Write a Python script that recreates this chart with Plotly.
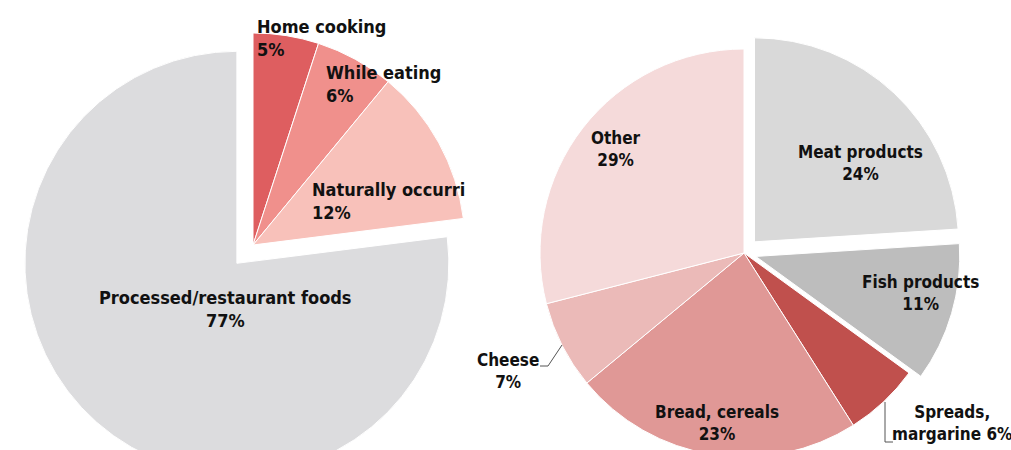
import plotly.graph_objects as go

# Left pie: where dietary salt comes from
src_labels = ["Home cooking", "While eating", "Naturally occurring", "Processed/restaurant foods"]
src_values = [5, 6, 12, 77]
src_colors = ["#DE5E60", "#F0908C", "#F8C1BA", "#DCDCDE"]

# Right pie: processed-food contributors
food_labels = ["Meat products", "Fish products", "Spreads, margarine", "Bread, cereals", "Cheese", "Other"]
food_values = [24, 11, 6, 23, 7, 29]
food_colors = ["#D9D9D9", "#BDBDBD", "#C0504D", "#E09896", "#EBBAB8", "#F5DADA"]
food_pull = [0.075, 0.06, 0, 0, 0, 0]

W, H = 1011, 485
BOLD = "Liberation Sans Narrow, Arial Narrow, DejaVu Sans Condensed, sans-serif"


def pie_domain(cx, cy, r, max_pull, half_w):
    """Domain for a pie whose circle has radius r (px) centred on (cx, cy) px."""
    half_h = r * (1 + max_pull)
    return dict(
        x=[(cx - half_w) / W, (cx + half_w) / W],
        y=[1 - (cy + half_h) / H, 1 - (cy - half_h) / H],
    )


src_pull = [0, 0, 0, 0.115]

fig = go.Figure()
fig.add_trace(go.Pie(
    labels=src_labels, values=src_values, sort=False, direction="clockwise",
    rotation=0, pull=src_pull, textinfo="none", hoverinfo="label+percent",
    marker=dict(colors=src_colors, line=dict(color="white", width=1)),
    domain=pie_domain(253, 245, 212, max(src_pull), 250),
    showlegend=False,
))
fig.add_trace(go.Pie(
    labels=food_labels, values=food_values, sort=False, direction="clockwise",
    rotation=0, pull=food_pull, textinfo="none", hoverinfo="label+percent",
    marker=dict(colors=food_colors, line=dict(color="white", width=1)),
    domain=pie_domain(744, 253, 204, max(food_pull), 225),
    showlegend=False,
))


def px_x(x):
    return x / W


def px_y(y):
    return 1 - y / H


def label(text, x, y, xanchor="center", align="center", size=17):
    fig.add_annotation(
        text=text, x=px_x(x), y=px_y(y), xref="paper", yref="paper",
        xanchor=xanchor, yanchor="middle", align=align, showarrow=False,
        font=dict(family=BOLD, size=size, color="#111111", weight="bold"),
    )


def pct(v):
    return f"{v}%"


# Left pie labels
label(f"{src_labels[0]}<br>{pct(src_values[0])}", 255, 38, "left", "left", 18)
label(f"{src_labels[1]}<br>{pct(src_values[1])}", 324, 84, "left", "left", 18)
label(f"{src_labels[2]}<br>{pct(src_values[2])}", 310, 201, "left", "left", 18)
label(f"{src_labels[3]}<br>{pct(src_values[3])}", 225, 309, "center", "center", 18)

# The left chart is cut off on its right edge: a white block over the overflow
fig.add_annotation(
    text=" ", x=px_x(466), y=px_y(200), xref="paper", yref="paper",
    xanchor="left", yanchor="middle", showarrow=False,
    width=60, height=90, bgcolor="white", borderpad=0, borderwidth=0,
)

# Right pie labels
label(f"{food_labels[0]}<br>{pct(food_values[0])}", 860, 163)
label(f"{food_labels[1]}<br>{pct(food_values[1])}", 920, 293)
label(f"Spreads,<br>margarine {pct(food_values[2])}", 952, 423)
label(f"{food_labels[3]}<br>{pct(food_values[3])}", 717, 423)
label(f"{food_labels[4]}<br>{pct(food_values[4])}", 508, 371)
label(f"{food_labels[5]}<br>{pct(food_values[5])}", 616, 149)

# Leader lines for the small outside labels
leader = dict(color="#555555", width=1)
fig.add_shape(type="path", xref="paper", yref="paper",
              path=f"M {px_x(540)} {px_y(366)} L {px_x(548)} {px_y(366)} L {px_x(562)} {px_y(345)}",
              line=leader, layer="above")
fig.add_shape(type="path", xref="paper", yref="paper",
              path=f"M {px_x(885)} {px_y(402)} L {px_x(885)} {px_y(442)} L {px_x(893)} {px_y(442)}",
              line=leader, layer="above")

fig.update_layout(
    width=W, height=H, margin=dict(l=0, r=0, t=0, b=0),
    paper_bgcolor="white", plot_bgcolor="white",
)

fig.write_html("out.html")
